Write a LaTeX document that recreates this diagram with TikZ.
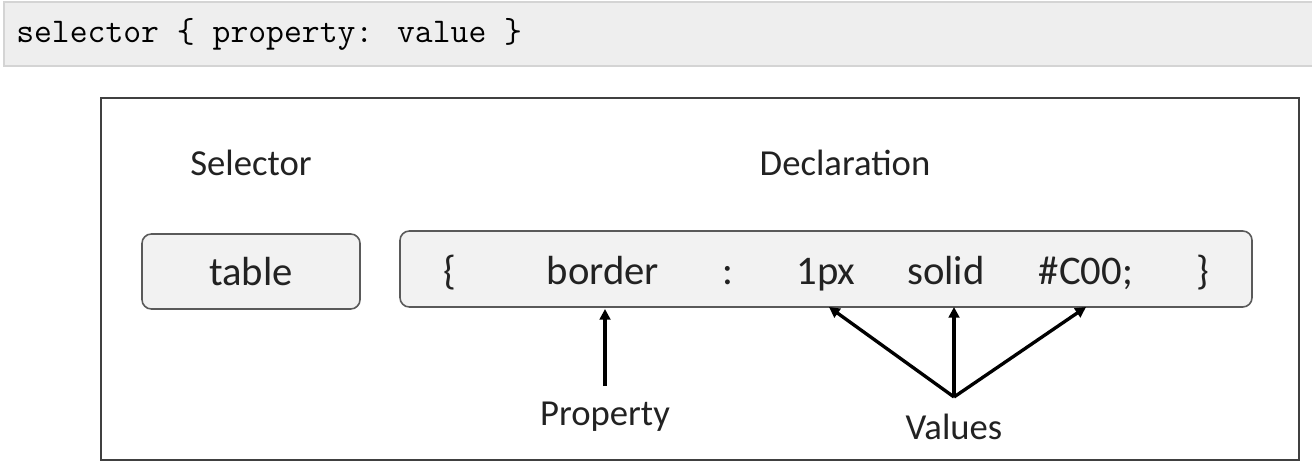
\documentclass[tikz,border=0pt]{standalone}
\usepackage{fontspec}
\setmainfont{Carlito}
\usetikzlibrary{arrows.meta}
\definecolor{codebg}{HTML}{EEEEEE}
\definecolor{codeln}{HTML}{D4D4D4}
\definecolor{boxbg}{HTML}{F2F2F2}
\definecolor{boxln}{HTML}{5A5A5A}
\definecolor{txt}{HTML}{222222}
\tikzset{
  rbox/.style={draw=boxln, fill=boxbg, line width=1.2pt, rounded corners=7pt},
  lbl/.style={text=txt, font=\fontsize{27.5}{30}\selectfont, inner sep=0pt},
  itm/.style={text=txt, font=\fontsize{30.5}{33}\selectfont, inner sep=0pt, anchor=base},
  arr/.style={line width=2.5pt, black, -{Triangle[length=8pt,width=8pt]}}
}
\begin{document}
\begin{tikzpicture}[x=0.75pt,y=-0.75pt]
\useasboundingbox (0,0) rectangle (1312,470);
% code bar
\draw[draw=codeln, fill=codebg, line width=1.5pt] (4,2) rectangle (1318,66);
\node[anchor=base west, inner sep=0pt, text=black, font=\ttfamily\fontsize{26}{28}\selectfont] (code) at (16,43) {selector \{ property: value \}};
% frame
\draw[draw=black!75, line width=1.3pt, fill=white] (101,98) rectangle (1299,460);
% headings
\node[lbl] (sel) at (251,163) {Selector};
\node[lbl] (decl) at (845,163) {Declaration};
% boxes
\draw[rbox] (142,234) rectangle (360,309);
\node[itm] (table) at (251,285) {table};
\draw[rbox] (400,231) rectangle (1252,307);
\node[itm] (ob) at (450,284) {\{};
\node[itm] (border) at (603,284) {border};
\node[itm] (colon) at (728,284) {:};
\node[itm] (px) at (826,284) {1px};
\node[itm] (solid) at (946,284) {solid};
\node[itm] (col) at (1086,284) {\#C00;};
\node[itm] (cb) at (1203,284) {\}};
% arrows
\coordinate (pstart) at (605,386);
\coordinate (ptip) at (605,309);
\coordinate (vo) at (954,397);
\coordinate (t1) at (829,307);
\coordinate (t2) at (954,307);
\coordinate (t3) at (1086,307);
\draw[arr] (pstart) -- (ptip);
\draw[arr] (vo) -- (t1);
\draw[arr] (vo) -- (t2);
\draw[arr] (vo) -- (t3);
\node[lbl] (prop) at (605,417) {Property};
\node[lbl] (vals) at (954,427) {Values};
\end{tikzpicture}
\end{document}
